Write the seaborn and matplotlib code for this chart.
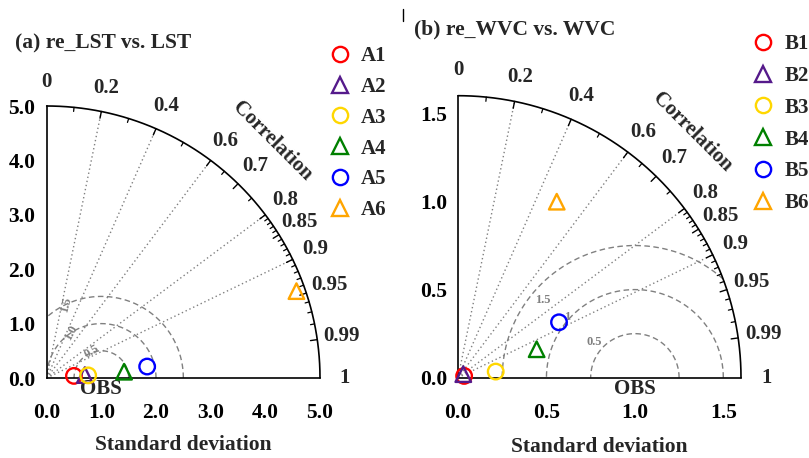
import numpy as np
import pandas as pd
import matplotlib
matplotlib.use("Agg")
import matplotlib.pyplot as plt
import seaborn as sns
from matplotlib.lines import Line2D

sns.set_style("white")
plt.rcParams["font.family"] = ["Liberation Serif", "DejaVu Serif"]
plt.rcParams["font.weight"] = "bold"
plt.rcParams["axes.labelweight"] = "bold"

# ---------------- data ----------------
a_names = ["A1", "A2", "A3", "A4", "A5", "A6"]
a_std = [0.50, 0.70, 0.76, 1.42, 1.85, 4.84]
a_corr = [0.997, 0.997, 0.998, 0.9967, 0.9935, 0.944]

b_names = ["B1", "B2", "B3", "B4", "B5", "B6"]
b_std = [0.036, 0.036, 0.216, 0.473, 0.652, 1.144]
b_corr = [0.96, 0.83, 0.987, 0.94, 0.876, 0.488]

series_markers = ["o", "^", "o", "^", "o", "^"]
series_colors = ["#FF0000", "#551A8B", "#FFD700", "#008000", "#0000FF", "#FFA500"]

a_std_ticks = [0.0, 1.0, 2.0, 3.0, 4.0, 5.0]
a_std_ticklabels = ["0.0", "1.0", "2.0", "3.0", "4.0", "5.0"]
b_std_ticks = [0.0, 0.5, 1.0, 1.5]
b_std_ticklabels = ["0.0", "0.5", "1.0", "1.5"]

corr_major = [0, 0.2, 0.4, 0.6, 0.7, 0.8, 0.85, 0.9, 0.95, 0.99, 1]
corr_major_labels = ["0", "0.2", "0.4", "0.6", "0.7", "0.8", "0.85", "0.9", "0.95", "0.99", "1"]
corr_minor = [0.1, 0.3, 0.5, 0.65, 0.75, 0.81, 0.82, 0.83, 0.84, 0.86, 0.87, 0.88,
              0.89, 0.91, 0.92, 0.93, 0.94, 0.96, 0.97, 0.98]
corr_lines = [0.2, 0.4, 0.6, 0.8, 0.9]

a_obs = 1.0
a_rmax = 5.0
a_rms = [0.5, 1.0, 1.5]
a_rms_labels = ["0.5", "1.0", "1.5"]
a_rms_label_x = [0.82, 0.44, 0.35]
a_rms_label_y = [0.48, 0.83, 1.34]

b_obs = 1.0
b_rmax = 1.6
b_rms = [0.25, 0.5, 0.75]
b_rms_labels = ["0.5", "1", "1.5"]
b_rms_label_x = [0.77, 0.62, 0.48]
b_rms_label_y = [0.20, 0.345, 0.44]

W, H = 809, 458
fig = plt.figure(figsize=(W / 100, H / 100), dpi=100)

FS = 15
TFS = 15.5
GREY = "#808080"


def px_axes(x0, x1, y0, y1):
    return fig.add_axes([x0 / W, (H - y0) / H, (x1 - x0) / W, (y0 - y1) / H])


def taylor(ax, names, std, corr, rmax, obs, ticks, ticklabels, rms, rms_labels,
           rms_lx, rms_ly, rotate_rms, title, title_xy, leg_xy, leg_spacing):
    ax.set_xlim(0, rmax)
    ax.set_ylim(0, rmax)
    ax.patch.set_alpha(0)
    for s in ["top", "right"]:
        ax.spines[s].set_visible(False)
    for s in ["left", "bottom"]:
        ax.spines[s].set_color("black")
        ax.spines[s].set_linewidth(1.2)
    ax.set_xticks(ticks)
    ax.set_xticklabels(ticklabels)
    ax.set_yticks(ticks)
    ax.set_yticklabels(ticklabels)
    ax.tick_params(axis="both", direction="in", length=5, width=1.0,
                   labelsize=TFS, colors="black")
    ax.tick_params(axis="y", pad=8)
    ax.tick_params(axis="x", pad=18)
    ax.grid(False)

    # outer arc
    th = np.linspace(0, np.pi / 2, 300)
    ax.plot(rmax * np.cos(th), rmax * np.sin(th), color="black", lw=1.2, clip_on=False)

    # arc ticks
    for c in corr_major[1:-1]:
        t = np.arccos(c)
        ax.plot([rmax * np.cos(t), rmax * 0.975 * np.cos(t)],
                [rmax * np.sin(t), rmax * 0.975 * np.sin(t)], color="black", lw=1.0, clip_on=False)
    for c in corr_minor:
        t = np.arccos(c)
        ax.plot([rmax * np.cos(t), rmax * 0.985 * np.cos(t)],
                [rmax * np.sin(t), rmax * 0.985 * np.sin(t)], color="black", lw=0.9, clip_on=False)

    # correlation labels
    for c, lab in zip(corr_major, corr_major_labels):
        t = np.arccos(c)
        r = rmax * 1.09
        ax.text(r * np.cos(t), r * np.sin(t), lab, ha="center", va="center",
                fontsize=FS, fontweight="bold", clip_on=False)
    tc = np.deg2rad(46.5)
    ax.text(rmax * 1.2 * np.cos(tc), rmax * 1.2 * np.sin(tc), "Correlation",
            rotation=-45, rotation_mode="anchor", ha="center", va="center",
            fontsize=FS, fontweight="bold")

    # correlation dotted lines
    for c in corr_lines:
        t = np.arccos(c)
        ax.plot([0, rmax * np.cos(t)], [0, rmax * np.sin(t)], color=GREY, lw=1.0,
                ls=(0, (1, 2)), zorder=1)

    # RMS circles
    tt = np.linspace(0, np.pi, 600)
    for r in rms:
        x = obs + r * np.cos(tt)
        y = r * np.sin(tt)
        m = (x < 0) | (np.hypot(x, y) > rmax)
        x = np.where(m, np.nan, x)
        y = np.where(m, np.nan, y)
        ax.plot(x, y, color=GREY, lw=1.0, ls=(0, (4, 2.5)), zorder=1)
    for lab, lx, ly in zip(rms_labels, rms_lx, rms_ly):
        rot = np.degrees(np.arctan2(ly, lx)) if rotate_rms else 0
        ax.text(lx, ly, lab, color=GREY, fontsize=9, fontweight="bold",
                ha="center", va="center", rotation=rot)

    # OBS
    ax.annotate("OBS", (obs, 0), xytext=(0, -8), textcoords="offset points",
                ha="center", va="center", fontsize=FS, fontweight="bold",
                annotation_clip=False)

    # points
    df = pd.DataFrame({"name": names, "std": std, "corr": corr,
                       "marker": series_markers, "color": series_colors})
    df["x"] = df["std"] * df["corr"]
    df["y"] = df["std"] * np.sqrt(1 - df["corr"] ** 2)
    handles = []
    for _, row in df.iterrows():
        sns.scatterplot(x=[row["x"]], y=[row["y"]], marker=row["marker"], s=125,
                        color=row["color"], facecolor="none", edgecolor=row["color"],
                        linewidth=1.7, ax=ax, clip_on=False, zorder=5, legend=False)
        handles.append(Line2D([], [], ls="none", marker=row["marker"], markersize=11,
                              markerfacecolor="none", markeredgecolor=row["color"],
                              markeredgewidth=1.7, label=row["name"]))
    ax.legend(handles=handles, loc="upper left", bbox_to_anchor=(leg_xy[0] / W, 1 - leg_xy[1] / H),
              bbox_transform=fig.transFigure, frameon=False, fontsize=FS,
              borderpad=0, borderaxespad=0, handlelength=1.0, handletextpad=0.5,
              labelspacing=leg_spacing)

    ax.set_xlabel("Standard deviation", fontsize=15.5, fontweight="bold")
    ax.set_ylabel("")
    ax.xaxis.set_label_coords(0.5, -0.21)

    fig.text(title_xy[0] / W, 1 - title_xy[1] / H, title, fontsize=15.5, fontweight="bold",
             ha="left", va="center")


ax1 = px_axes(46.7, 320.0, 378.0, 106.0)
taylor(ax1, a_names, a_std, a_corr, a_rmax, a_obs, a_std_ticks, a_std_ticklabels,
       a_rms, a_rms_labels, a_rms_label_x, a_rms_label_y, True,
       "(a) re_LST vs. LST", (15, 43), (330, 46), 0.52)

ax2 = px_axes(458.0, 741.0, 377.7, 95.7)
taylor(ax2, b_names, b_std, b_corr, b_rmax, b_obs, b_std_ticks, b_std_ticklabels,
       b_rms, b_rms_labels, b_rms_label_x, b_rms_label_y, False,
       "(b) re_WVC vs. WVC", (414, 29), (753, 34), 0.57)

fig.add_artist(Line2D([403 / W, 403 / W], [1 - 9 / H, 1 - 21 / H], color="black", lw=1.0,
                      transform=fig.transFigure))

fig.savefig("out.png", dpi=100)
